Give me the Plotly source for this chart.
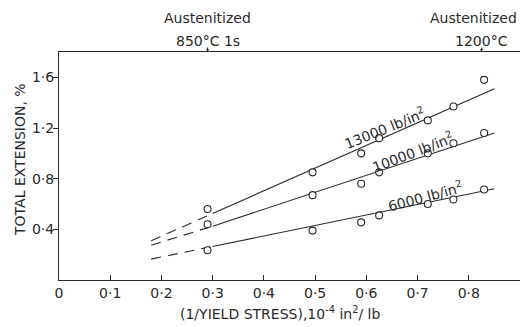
import plotly.graph_objects as go

# ---- data ----
x_pts = [0.29, 0.495, 0.59, 0.625, 0.72, 0.77, 0.83]
y_13000 = [0.56, 0.85, 1.00, 1.12, 1.26, 1.37, 1.58]
y_10000 = [0.44, 0.67, 0.76, 0.85, 1.00, 1.08, 1.16]
y_6000 = [0.235, 0.39, 0.455, 0.51, 0.60, 0.635, 0.715]

# fitted lines: dashed extrapolation then solid
fit_dash_x = [0.18, 0.30]
fit_solid_x = [0.30, 0.85]
fit_13000_dash = [0.31, 0.525]
fit_13000_solid = [0.525, 1.51]
fit_10000_dash = [0.275, 0.425]
fit_10000_solid = [0.425, 1.16]
fit_6000_dash = [0.165, 0.265]
fit_6000_solid = [0.265, 0.72]

xtick_vals = [0, 0.1, 0.2, 0.3, 0.4, 0.5, 0.6, 0.7, 0.8]
xtick_text = ["0", "0·1", "0·2", "0·3", "0·4", "0·5", "0·6", "0·7", "0·8"]
ytick_vals = [0.4, 0.8, 1.2, 1.6]
ytick_text = ["0·4", "0·8", "1·2", "1·6"]

INK = "#2a2a2a"
FONT = "DejaVu Sans"

fig = go.Figure()

series = [
    (y_13000, fit_13000_dash, fit_13000_solid),
    (y_10000, fit_10000_dash, fit_10000_solid),
    (y_6000, fit_6000_dash, fit_6000_solid),
]
for ys, fd, fs in series:
    fig.add_trace(go.Scatter(x=fit_dash_x, y=fd, mode="lines",
                             line=dict(color=INK, width=1.1, dash="10px,7px"),
                             showlegend=False, hoverinfo="skip"))
    fig.add_trace(go.Scatter(x=fit_solid_x, y=fs, mode="lines",
                             line=dict(color=INK, width=1.1),
                             showlegend=False, hoverinfo="skip"))
    fig.add_trace(go.Scatter(x=x_pts, y=ys, mode="markers",
                             marker=dict(symbol="circle", size=7, color="white",
                                         line=dict(color=INK, width=1.1)),
                             showlegend=False))

labels = [
    ("13000 lb/in<sup>2</sup>", 0.635, 1.20, -22),
    ("10000 lb/in<sup>2</sup>", 0.69, 1.01, -21),
    ("6000 lb/in<sup>2</sup>", 0.715, 0.66, -15),
]
for txt, x, y, ang in labels:
    fig.add_annotation(x=x, y=y, text=txt, showarrow=False, textangle=ang,
                       font=dict(family=FONT, size=14, color=INK))

# top annotations
tops = [
    (0.29, 0.29, "Austenitized", "850°C 1s"),
    (0.81, 0.825, "Austenitized", "1200°C"),
]
for x1, x2, l1, l2 in tops:
    fig.add_annotation(x=x1, y=1.149, xref="x", yref="paper", text=l1,
                       xanchor="center", yanchor="middle",
                       showarrow=False, font=dict(family=FONT, size=14, color=INK))
    fig.add_annotation(x=x2, y=1.05, xref="x", yref="paper", text=l2,
                       xanchor="center", yanchor="middle",
                       showarrow=False, font=dict(family=FONT, size=14, color=INK))
    fig.add_annotation(x=x2, y=1.0, xref="x", yref="paper", ax=0, ay=-6,
                       text="", showarrow=True, arrowhead=2, arrowsize=0.6,
                       arrowwidth=1, arrowcolor=INK)

fig.add_annotation(x=0.48, xref="paper", y=-0.145, yref="paper",
                   xanchor="center", yanchor="middle",
                   text="(1/YIELD STRESS),10<sup>-4</sup> in<sup>2</sup>/ lb",
                   showarrow=False, font=dict(family=FONT, size=14, color=INK))
fig.add_annotation(x=-0.085, xref="paper", y=0.53, yref="paper", textangle=-90,
                   xanchor="center", yanchor="middle",
                   text="TOTAL EXTENSION, %",
                   showarrow=False, font=dict(family=FONT, size=14, color=INK))

fig.update_xaxes(range=[0, 0.9], tickvals=xtick_vals, ticktext=xtick_text,
                 ticks="inside", ticklen=5, tickcolor=INK, showgrid=False,
                 zeroline=False, showline=True, linecolor=INK, linewidth=1,
                 mirror=True, automargin=False,
                 tickfont=dict(family=FONT, size=14, color=INK))
fig.update_yaxes(range=[0, 1.8], tickvals=ytick_vals, ticktext=ytick_text,
                 ticks="outside", ticklen=5, tickcolor=INK, showgrid=False,
                 zeroline=False, showline=True, linecolor=INK, linewidth=1,
                 mirror=True, automargin=False, ticklabelstandoff=-4,
                 tickfont=dict(family=FONT, size=14, color=INK))

# page body has an 8px margin, so the figure is sized to fit the window
fig.update_layout(width=520, height=319, margin=dict(l=51, r=8, t=44, b=47),
                  plot_bgcolor="white", paper_bgcolor="white", showlegend=False)

fig.write_html("out.html")
